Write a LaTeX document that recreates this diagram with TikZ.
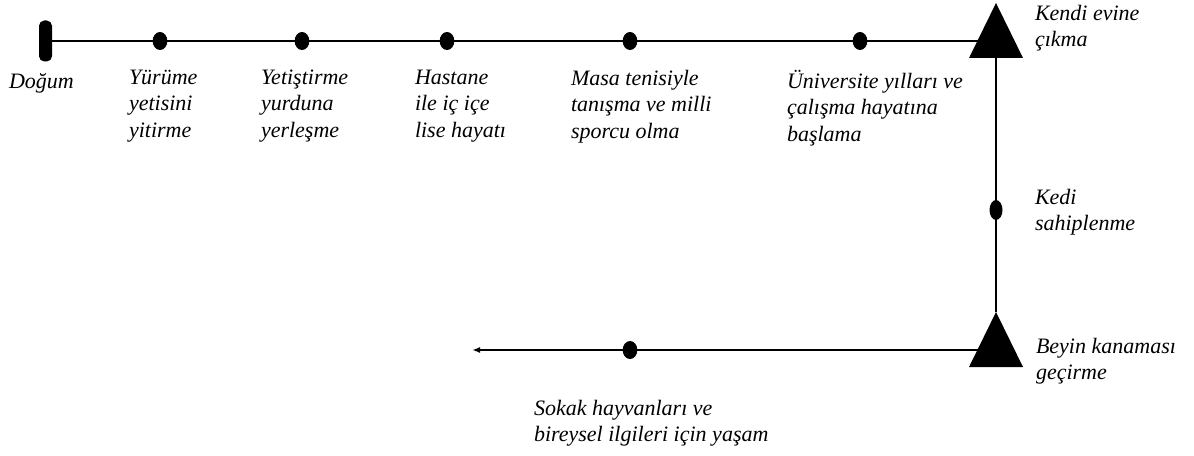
\documentclass[tikz,border=0pt]{standalone}
\usepackage{fontspec}
\setmainfont{Liberation Serif}
\usepackage{tikz}
\usetikzlibrary{arrows.meta,shapes.geometric}

\begin{document}
\begin{tikzpicture}[x=0.75pt,y=-0.75pt,>={Latex[length=6pt,width=4.5pt]},line width=1.5pt,
  every node/.style={font=\itshape\fontsize{16.5}{19.8}\selectfont},
  ev/.style={ellipse,fill=black,inner sep=0pt,outer sep=0pt,minimum width=11pt,minimum height=13.5pt},
  turn/.style={isosceles triangle,isosceles triangle stretches,shape border rotate=90,fill=black,inner sep=0pt,outer sep=0pt,minimum width=40.5pt,minimum height=41.25pt,anchor=apex},
  lbl/.style={anchor=north west,align=left,inner sep=0pt,execute at begin node=\strut}]
  \useasboundingbox (0,0) rectangle (1194,456);
  % top line
  \node[fill=black,rounded corners=4pt,inner sep=0pt,outer sep=0pt,minimum width=9.75pt,minimum height=30.75pt] (B) at (45.5,41) {};
  \node[ev] (Y1) at (160,41) {};
  \node[ev] (Y2) at (302,41) {};
  \node[ev] (H) at (447,41) {};
  \node[ev] (M) at (630,41) {};
  \node[ev] (U) at (860,41) {};
  \node[turn] (K) at (996,3) {};
  \draw (B) -- (Y1) -- (Y2) -- (H) -- (M) -- (U) -- (U -| K.apex);
  % right side, going down and back
  \node[ev,minimum width=9.75pt,minimum height=15pt] (C) at (996,210) {};
  \node[turn] (BK) at (996,312) {};
  \draw (K.center) -- (C) -- (BK.apex);
  \node[ev] (S) at (630,350) {};
  \coordinate (E) at (472,350);
  \draw (BK.apex |- S) -- (S);
  \draw[->] (S) -- (E);
  % labels
  \node[lbl] at (8,69) {Doğum};
  \node[lbl] at (128,69) {Yürüme\\yetisini\\yitirme};
  \node[lbl] at (260,69) {Yetiştirme\\yurduna\\yerleşme};
  \node[lbl] at (414,69) {Hastane\\ile iç içe\\lise hayatı};
  \node[lbl] at (570,69) {Masa tenisiyle\\tanışma ve milli\\sporcu olma};
  \node[lbl] at (786,69) {Üniversite yılları ve\\çalışma hayatına\\başlama};
  \node[lbl] at (1034,4) {Kendi evine\\çıkma};
  \node[lbl] at (1034,188) {Kedi\\sahiplenme};
  \node[lbl] at (1035,337) {Beyin kanaması\\geçirme};
  \node[lbl] at (533,399) {Sokak hayvanları ve\\bireysel ilgileri için yaşam};
\end{tikzpicture}
\end{document}
